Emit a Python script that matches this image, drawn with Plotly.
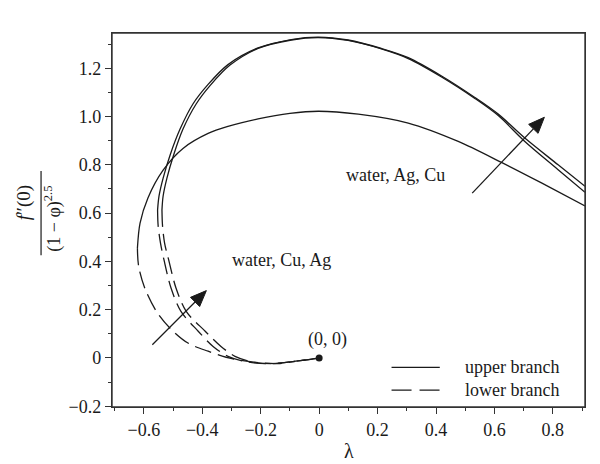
import math
import plotly.graph_objects as go

# ---------------- data ----------------
x_tick_vals = [-0.6, -0.4, -0.2, 0.0, 0.2, 0.4, 0.6, 0.8]
x_tick_text = ["\u22120.6", "\u22120.4", "\u22120.2", "0", "0.2", "0.4", "0.6", "0.8"]
y_tick_vals = [-0.2, 0.0, 0.2, 0.4, 0.6, 0.8, 1.0, 1.2]
y_tick_text = ["\u22120.2", "0", "0.2", "0.4", "0.6", "0.8", "1.0", "1.2"]

# water (phi = 0)
water_upper_lam = [-0.622, -0.613, -0.586, -0.534, -0.466, -0.380, -0.312, -0.209, -0.100, -0.003, 0.134, 0.305, 0.476, 0.624, 0.761, 0.910]
water_upper_f   = [0.455, 0.559, 0.663, 0.778, 0.868, 0.930, 0.959, 0.990, 1.013, 1.022, 1.010, 0.973, 0.897, 0.810, 0.725, 0.630]
water_lower_lam = [-0.622, -0.618, -0.597, -0.557, -0.511, -0.449, -0.380, -0.295, -0.209, -0.140, -0.072, 0.0]
water_lower_f   = [0.455, 0.381, 0.290, 0.193, 0.124, 0.062, 0.028, -0.004, -0.019, -0.023, -0.012, 0.0]

# Cu nanofluid
cu_upper_lam = [-0.553, -0.548, -0.534, -0.510, -0.476, -0.432, -0.380, -0.312, -0.209, -0.095, -0.003, 0.099, 0.213, 0.305, 0.419, 0.533, 0.613, 0.704, 0.818, 0.910]
cu_upper_f   = [0.613, 0.671, 0.745, 0.841, 0.948, 1.052, 1.133, 1.215, 1.284, 1.319, 1.329, 1.317, 1.282, 1.244, 1.168, 1.079, 1.010, 0.911, 0.800, 0.711]
cu_lower_lam = [-0.553, -0.551, -0.543, -0.531, -0.507, -0.473, -0.414, -0.363, -0.312, -0.243, -0.158, -0.072, 0.0]
cu_lower_f   = [0.613, 0.547, 0.476, 0.406, 0.290, 0.193, 0.111, 0.048, 0.007, -0.017, -0.023, -0.012, 0.0]

# Ag nanofluid
ag_upper_lam = [-0.538, -0.534, -0.521, -0.498, -0.466, -0.421, -0.372, -0.305, -0.209, -0.095, -0.003, 0.099, 0.213, 0.305, 0.419, 0.533, 0.613, 0.704, 0.818, 0.910]
ag_upper_f   = [0.613, 0.671, 0.745, 0.841, 0.948, 1.052, 1.130, 1.213, 1.282, 1.317, 1.327, 1.315, 1.280, 1.240, 1.164, 1.075, 1.004, 0.897, 0.780, 0.686]
ag_lower_lam = [-0.538, -0.536, -0.529, -0.515, -0.490, -0.455, -0.390, -0.336, -0.288, -0.226, -0.158, -0.072, 0.0]
ag_lower_f   = [0.613, 0.547, 0.476, 0.406, 0.290, 0.193, 0.111, 0.048, 0.007, -0.017, -0.023, -0.012, 0.0]

origin_lam = [0.0]
origin_f = [0.0]

# ---------------- figure ----------------
INK = "#1a1a1a"
FONT = "Liberation Serif"
LW = 1.3
DASH = "17px,7px"

W, H = 600, 464
ML, MR, MT, MB = 104, 23, 25, 65
XR = [-0.709, 0.910]
YR = [-0.203, 1.346]
PX_X = (W - ML - MR) / (XR[1] - XR[0])
PX_Y = (H - MT - MB) / (YR[1] - YR[0])

fig = go.Figure()

def add_branch(lam, f, dashed):
    fig.add_trace(go.Scatter(
        x=lam, y=f, mode="lines", showlegend=False, hoverinfo="skip",
        line=dict(color=INK, width=LW, shape="spline", smoothing=0.9,
                  dash=DASH if dashed else "solid")))

add_branch(water_upper_lam, water_upper_f, False)
add_branch(cu_upper_lam, cu_upper_f, False)
add_branch(ag_upper_lam, ag_upper_f, False)
add_branch(water_lower_lam, water_lower_f, True)
add_branch(cu_lower_lam, cu_lower_f, True)
add_branch(ag_lower_lam, ag_lower_f, True)

fig.add_trace(go.Scatter(x=origin_lam, y=origin_f, mode="markers", showlegend=False,
                         hoverinfo="skip", marker=dict(color=INK, size=7)))

axis_common = dict(
    showgrid=False, zeroline=False, showline=True, linecolor="#333", linewidth=1.4,
    mirror=True, ticks="outside", ticklen=6, tickwidth=1.2, tickcolor="#333",
    tickfont=dict(family=FONT, size=18, color=INK), tickmode="array",
)

fig.update_layout(
    width=W, height=H, autosize=False,
    margin=dict(l=ML, r=MR, t=MT, b=MB),
    paper_bgcolor="white", plot_bgcolor="white",
    font=dict(family=FONT, size=18, color=INK),
    xaxis=dict(range=XR, tickvals=x_tick_vals, ticktext=x_tick_text,
               minor=dict(tickmode="linear", tick0=0, dtick=0.1, ticks="outside",
                          ticklen=3, tickwidth=1.1, tickcolor="#333"),
               **axis_common),
    yaxis=dict(range=YR, tickvals=y_tick_vals, ticktext=y_tick_text,
               minor=dict(tickmode="linear", tick0=0, dtick=0.1, ticks="outside",
                          ticklen=3, tickwidth=1.1, tickcolor="#333"),
               **axis_common),
)

# plot frame
fig.add_shape(type="rect", xref="paper", yref="paper", x0=0, x1=1, y0=0, y1=1,
              line=dict(color="#333", width=1.4), layer="above")

# arrows drawn as shapes: shaft + filled triangular head
def add_arrow(x0, y0, x1, y1, head_len=16, head_half=6.5):
    dxp = (x1 - x0) * PX_X
    dyp = (y1 - y0) * PX_Y
    L = math.hypot(dxp, dyp)
    ux, uy = dxp / L, dyp / L
    bx = x1 - ux * head_len / PX_X
    by = y1 - uy * head_len / PX_Y
    px_, py_ = -uy, ux
    lx = bx + px_ * head_half / PX_X
    ly = by + py_ * head_half / PX_Y
    rx = bx - px_ * head_half / PX_X
    ry = by - py_ * head_half / PX_Y
    fig.add_shape(type="line", xref="x", yref="y", x0=x0, y0=y0, x1=bx, y1=by,
                  line=dict(color=INK, width=1.3))
    fig.add_shape(type="path", xref="x", yref="y",
                  path=f"M{x1},{y1} L{lx},{ly} L{rx},{ry} Z",
                  fillcolor=INK, line=dict(color=INK, width=1))

add_arrow(0.524, 0.683, 0.771, 0.997)
add_arrow(-0.571, 0.055, -0.386, 0.279)

# texts in plot
txt = dict(showarrow=False, font=dict(family=FONT, size=18, color=INK), xref="x", yref="y")
fig.add_annotation(x=0.260, y=0.759, text="water, Ag, Cu", xanchor="center", yanchor="middle", **txt)
fig.add_annotation(x=-0.305, y=0.407, text="water, Cu, Ag", xanchor="left", yanchor="middle", **txt)
fig.add_annotation(x=0.027, y=0.076, text="(0, 0)", xanchor="center", yanchor="middle", **txt)

# legend (custom)
fig.add_shape(type="line", xref="paper", yref="paper", x0=0.591, x1=0.693, y0=0.106, y1=0.106,
              line=dict(color=INK, width=LW))
fig.add_shape(type="line", xref="paper", yref="paper", x0=0.591, x1=0.693, y0=0.045, y1=0.045,
              line=dict(color=INK, width=LW, dash="20px,8px"))
fig.add_annotation(xref="paper", yref="paper", x=0.742, y=0.106, text="upper branch",
                   xanchor="left", yanchor="middle", showarrow=False,
                   font=dict(family=FONT, size=18, color=INK))
fig.add_annotation(xref="paper", yref="paper", x=0.742, y=0.045, text="lower branch",
                   xanchor="left", yanchor="middle", showarrow=False,
                   font=dict(family=FONT, size=18, color=INK))

# axis titles
fig.add_annotation(xref="paper", yref="paper", x=0.5, y=-0.118, text="\u03bb",
                   showarrow=False, xanchor="center", yanchor="middle",
                   font=dict(family=FONT, size=20, color=INK))
fig.add_annotation(xref="paper", yref="paper", x=-0.186, y=0.545, text="<i>f</i>\u2033(0)",
                   textangle=-90, showarrow=False, xanchor="center", yanchor="middle",
                   font=dict(family=FONT, size=19, color=INK))
fig.add_shape(type="line", xref="paper", yref="paper", x0=-0.150, x1=-0.150, y0=0.406, y1=0.631,
              line=dict(color=INK, width=1.2))
fig.add_annotation(xref="paper", yref="paper", x=-0.125, y=0.503, text="(1 \u2212 \u03c6)<sup>2.5</sup>",
                   textangle=-90, showarrow=False, xanchor="center", yanchor="middle",
                   font=dict(family=FONT, size=18, color=INK))

fig.write_html("out.html")
